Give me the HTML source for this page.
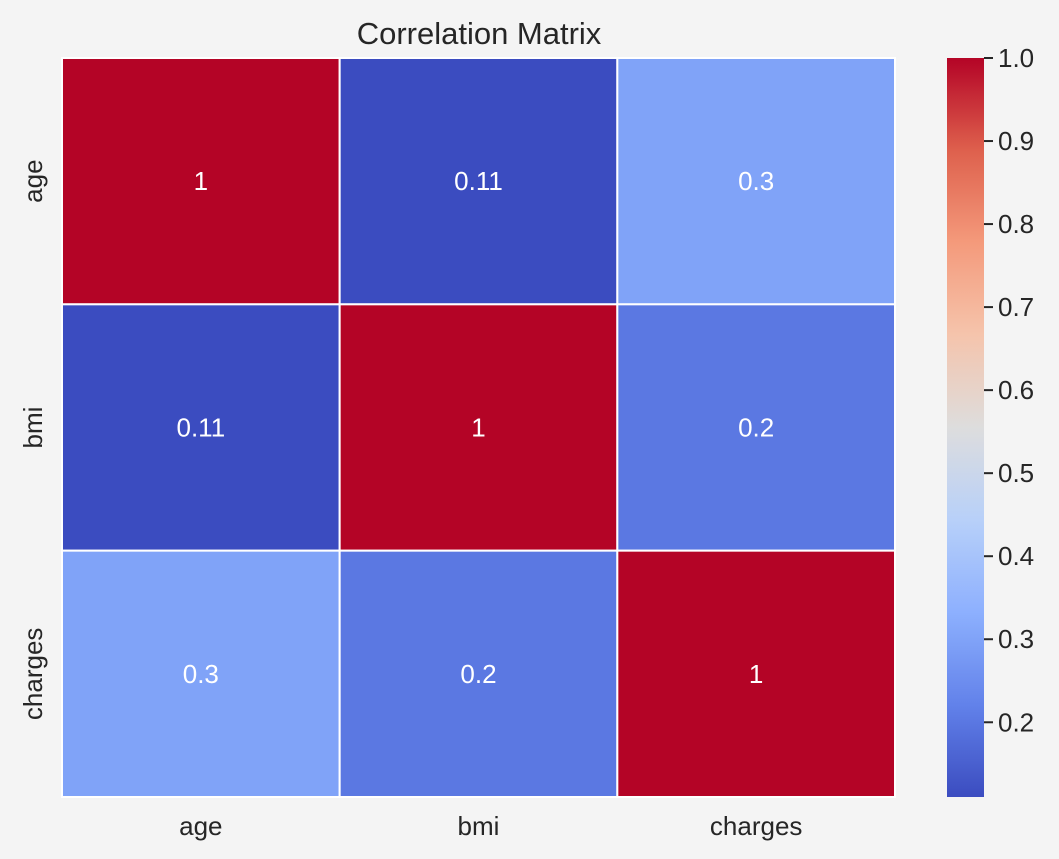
<!DOCTYPE html>
<html><head><meta charset="utf-8"><style>
body{margin:0;background:#f4f4f4;}
svg{display:block;font-family:"Liberation Sans",Arial,sans-serif;}
</style></head><body>
<svg id="chart" width="1059" height="859">
<defs><linearGradient id="cg" x1="0" y1="1" x2="0" y2="0"></linearGradient></defs>
<rect width="1059" height="859" fill="#f4f4f4"/>
<text x="479" y="44" text-anchor="middle" font-size="31" fill="#262626">Correlation Matrix</text>
<g id="cells"></g><g id="xl"></g><g id="yl"></g><g id="cb"></g>
</svg>
<script>
const labels = ["age","bmi","charges"];
const matrix = [[1,0.11,0.3],[0.11,1,0.2],[0.3,0.2,1]];
const ticks = [0.2,0.3,0.4,0.5,0.6,0.7,0.8,0.9,1.0];
const vmin = 0.11, vmax = 1.0;
const stops=[[59,76,192],[98,130,234],[141,176,254],[184,208,249],[221,221,221],[245,196,172],[244,154,123],[222,96,77],[180,4,38]];
function cmap(v){let t=(v-vmin)/(vmax-vmin);t=Math.max(0,Math.min(1,t))*8;let i=Math.min(7,Math.floor(t)),f=t-i;
 const c=stops[i].map((a,k)=>Math.round(a+(stops[i+1][k]-a)*f));return `rgb(${c})`;}
const NS="http://www.w3.org/2000/svg";
function mk(tag,attrs,parent){const e=document.createElementNS(NS,tag);for(const k in attrs)e.setAttribute(k,attrs[k]);parent.appendChild(e);return e;}
const X0=62,X1=895,Y0=58,Y1=797,n=labels.length,cw=(X1-X0)/n,ch=(Y1-Y0)/n;
const xs=i=>X0+i*cw, ys=i=>Y0+i*ch;
const cells=document.getElementById('cells');
for(let r=0;r<n;r++)for(let c=0;c<n;c++){
 const v=matrix[r][c];
 const rc=mk('rect',{x:xs(c),y:ys(r),width:cw,height:ch,fill:cmap(v),stroke:'#fff','stroke-width':2},cells);
 
 
 const t=mk('text',{x:xs(c)+cw/2,y:ys(r)+ch/2+9,'text-anchor':'middle','font-size':26,fill:'#fff'},cells);
 t.textContent=String(v);
 
 
}
const xl=document.getElementById('xl'),yl=document.getElementById('yl');
labels.forEach((l,i)=>{
 const t=mk('text',{x:xs(i)+cw/2,y:835,'text-anchor':'middle','font-size':26,fill:'#262626'},xl);t.textContent=l;
 
 
 const cy=ys(i)+ch/2;
 const u=mk('text',{x:0,y:0,'text-anchor':'middle','font-size':26,fill:'#262626',transform:`translate(42,${cy}) rotate(-90)`},yl);u.textContent=l;
 
 
});
const g=document.getElementById('cg');
for(let k=0;k<=40;k++){const v=vmin+(vmax-vmin)*k/40;mk('stop',{offset:(k/40),'stop-color':cmap(v)},g);}
const cb=document.getElementById('cb');
const CB0=947,CB1=984,cy=v=>Y1-(v-vmin)/(vmax-vmin)*(Y1-Y0);
const bar=mk('rect',{x:CB0,y:Y0,width:CB1-CB0,height:Y1-Y0,fill:'url(#cg)'},cb);


ticks.forEach(v=>{const y=cy(v);
 mk('line',{x1:CB1,x2:CB1+9,y1:y,y2:y,stroke:'#262626','stroke-width':2},cb);
 const t=mk('text',{x:CB1+14,y:y+9,'font-size':26,fill:'#262626'},cb);t.textContent=v.toFixed(1);
 
 
});
</script>
</body></html>
